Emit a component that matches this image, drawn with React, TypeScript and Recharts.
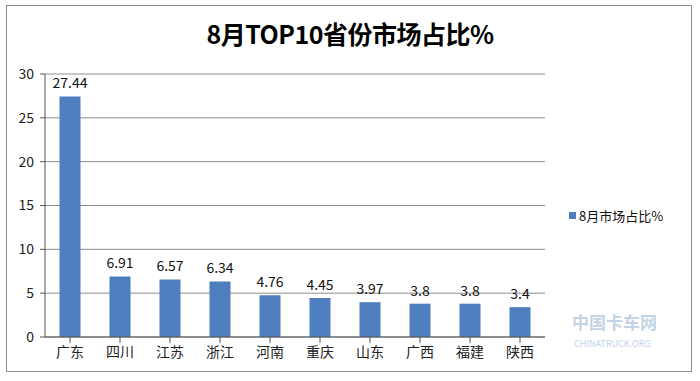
import React from 'react';
import { BarChart, Bar, XAxis, YAxis, CartesianGrid, LabelList } from 'recharts';

const provinces = ['广东', '四川', '江苏', '浙江', '河南', '重庆', '山东', '广西', '福建', '陕西'];
const shares = [27.44, 6.91, 6.57, 6.34, 4.76, 4.45, 3.97, 3.8, 3.8, 3.4];
const yTicks = [0, 5, 10, 15, 20, 25, 30];
const seriesName = '8月市场占比%';

const data = provinces.map((p, i) => ({ province: p, share: shares[i] }));

const font = '"Noto Sans CJK SC", "Noto Sans", sans-serif';
const barColor = '#4F7EBE';

export default function App() {
  return (
    <div style={{ position: 'absolute', left: 0, top: 0, width: 700, height: 381, background: '#fff', fontFamily: font }}>
      <div
        style={{
          position: 'absolute',
          left: 6,
          top: 5,
          width: 686,
          height: 367,
          border: '1.5px solid #8c8c8c',
          boxSizing: 'border-box',
        }}
      />
      <div
        style={{
          position: 'absolute',
          left: 0,
          top: 15,
          width: 700,
          textAlign: 'center',
          fontSize: 25,
          fontWeight: 700,
          letterSpacing: -0.5,
          color: '#000',
        }}
      >
        8月TOP10省份市场占比%
      </div>
      <div style={{ position: 'absolute', left: 0, top: 0 }}>
        <BarChart
          width={700}
          height={381}
          data={data}
          margin={{ top: 74, right: 155, left: 0, bottom: 14 }}
          barCategoryGap="29%"
        >
          <CartesianGrid vertical={false} stroke="#8e8e8e" strokeWidth={1} />
          <XAxis
            dataKey="province"
            height={30}
            stroke="#555"
            tickLine={{ stroke: '#555' }}
            tick={{ fill: '#222', fontSize: 14, fontFamily: font }}
            tickMargin={4}
            interval={0}
          />
          <YAxis
            width={45}
            domain={[0, 30]}
            ticks={yTicks}
            stroke="#555"
            tickSize={5}
            tickMargin={6}
            tick={{ fill: '#222', fontSize: 14, fontFamily: font }}
          />
          <Bar dataKey="share" name={seriesName} fill={barColor} isAnimationActive={false}>
            <LabelList dataKey="share" position="top" offset={8} fill="#111" fontSize={14} fontFamily={font} />
          </Bar>
        </BarChart>
      </div>
      {/* legend */}
      <div style={{ position: 'absolute', left: 569, top: 206, display: 'flex', alignItems: 'center', fontSize: 13, color: '#111' }}>
        <span style={{ display: 'inline-block', width: 7, height: 7, background: barColor, marginRight: 3 }} />
        {seriesName}
      </div>
      {/* watermark */}
      <div style={{ position: 'absolute', left: 572, top: 309, color: '#9db8d6', fontSize: 17, fontWeight: 700, opacity: 0.6 }}>
        中国卡车网
      </div>
      <div style={{ position: 'absolute', left: 574, top: 337, color: '#9db8d6', fontSize: 9, opacity: 0.6 }}>
        CHINATRUCK.ORG
      </div>
    </div>
  );
}
